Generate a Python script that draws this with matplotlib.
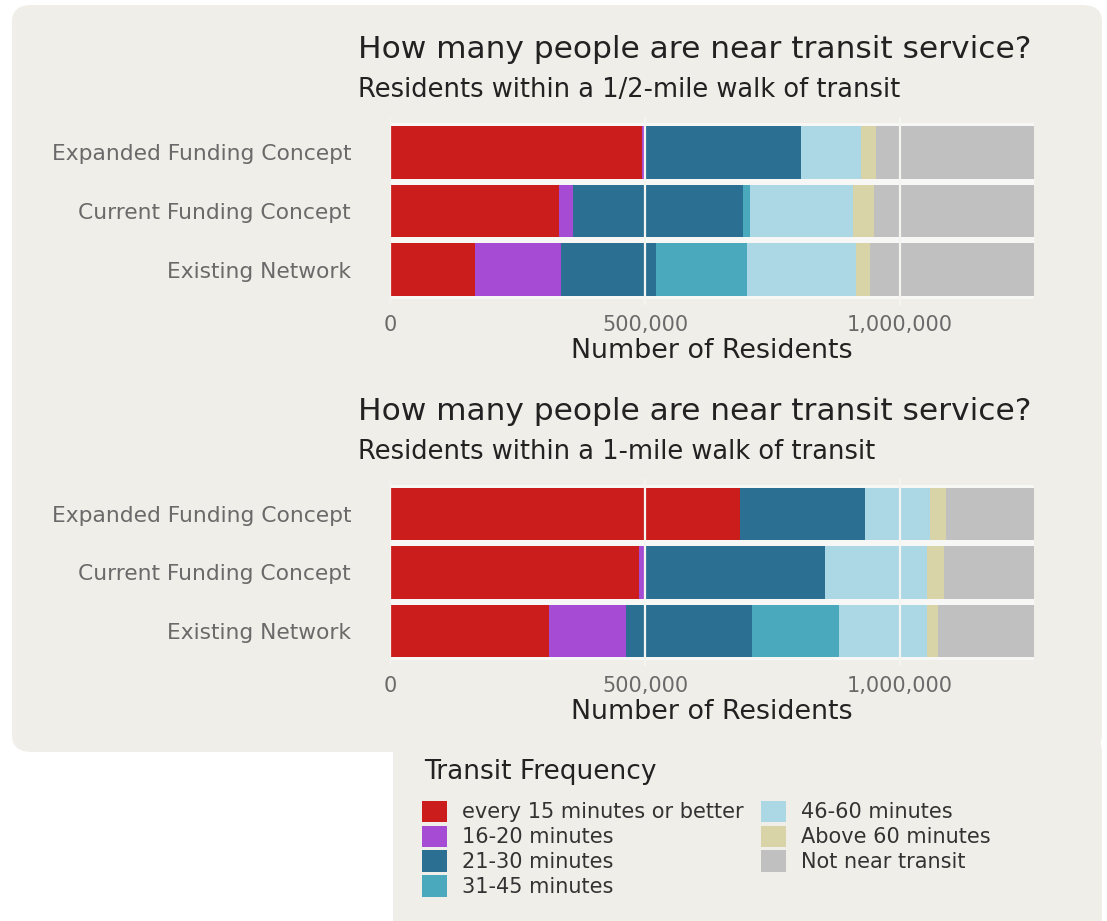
#!/usr/bin/env python3
"""Stacked bars: residents near transit by service frequency (1/2 mile and 1 mile walk)."""

import matplotlib

matplotlib.use("Agg")
import matplotlib.pyplot as plt
from matplotlib.patches import FancyBboxPatch, Patch

plt.rcParams["font.family"] = ["DejaVu Sans"]

W, H = 1107, 921

scenarios = ["Expanded Funding Concept", "Current Funding Concept", "Existing Network"]
categories = [
    "every 15 minutes or better",
    "16-20 minutes",
    "21-30 minutes",
    "31-45 minutes",
    "46-60 minutes",
    "Above 60 minutes",
    "Not near transit",
]
colors = ["#cc1d1d", "#a64bd3", "#2b7093", "#4aa9bd", "#acd8e6", "#d9d4a8", "#c0c0c0"]

# residents per frequency band, one row per scenario (same order as scenarios)
half_mile = [
    [495000, 5000, 307000, 0, 116000, 31000, 309000],
    [331000, 28000, 334000, 14000, 202000, 41000, 313000],
    [166000, 170000, 185000, 180000, 212000, 28000, 322000],
]
one_mile = [
    [686000, 0, 245000, 0, 128000, 31000, 173000],
    [489000, 12000, 353000, 0, 200000, 32000, 177000],
    [312000, 151000, 247000, 170000, 174000, 21000, 188000],
]

x_ticks = [0, 500000, 1000000]
x_ticklabels = ["0", "500,000", "1,000,000"]

BG = "#efeee8"
TEXT = "#222222"
GREY_TEXT = "#6a6a6a"


def px_box(x0, y0, x1, y1):
    # pixel box (top-left origin) -> figure fraction [left, bottom, width, height]
    return [x0 / W, 1 - y1 / H, (x1 - x0) / W, (y1 - y0) / H]


def draw_panel(ax, rows, title, subtitle, title_y):
    n = len(scenarios)
    ys = list(range(n - 1, -1, -1))
    total = max(sum(r) for r in rows)
    ax.barh(ys, [total] * n, height=1.0, color="#f7f7f5", zorder=1)
    for i, row in enumerate(rows):
        left = 0
        for val, col in zip(row, colors):
            if val > 0:
                ax.barh(ys[i], val, left=left, height=0.9, color=col, linewidth=0, zorder=2)
            left += val
    ax.set_xlim(0, total)
    ax.set_ylim(-0.6, n - 1 + 0.6)
    ax.set_facecolor("none")
    for s in ax.spines.values():
        s.set_visible(False)
    for xt in x_ticks:
        ax.axvline(xt, color="#f4f4f0", lw=1.6, zorder=3)
    ax.set_xticks(x_ticks)
    ax.set_xticklabels(x_ticklabels)
    ax.set_yticks(ys)
    ax.set_yticklabels(scenarios)
    ax.tick_params(axis="x", length=0, pad=7, labelsize=15, labelcolor=GREY_TEXT)
    ax.tick_params(axis="y", length=0, pad=28, labelsize=15.7, labelcolor=GREY_TEXT)
    ax.set_xlabel("Number of Residents", fontsize=19.4, color=TEXT, labelpad=2)
    fig.text(358 / W, 1 - title_y / H, title, fontsize=22.5, color=TEXT, va="baseline", ha="left")
    fig.text(358 / W, 1 - (title_y + 39) / H, subtitle, fontsize=18.5, color=TEXT,
             va="baseline", ha="left")


fig = plt.figure(figsize=(W / 100, H / 100), dpi=100)
fig.patch.set_facecolor("white")

# rounded background panels
main_bg = FancyBboxPatch((12 / W, 1 - 752 / H), 1090 / W, 747 / H,
                         boxstyle="round,pad=0,rounding_size=0.018",
                         transform=fig.transFigure, facecolor=BG, edgecolor="none", zorder=-5)
legend_bg = FancyBboxPatch((393 / W, 1 - 935 / H), 709 / W, 200 / H,
                           boxstyle="round,pad=0,rounding_size=0.018",
                           transform=fig.transFigure, facecolor=BG, edgecolor="none", zorder=-5)
fig.patches.extend([main_bg, legend_bg])

ax1 = fig.add_axes(px_box(390, 117, 1034, 305))
draw_panel(ax1, half_mile, "How many people are near transit service?",
           "Residents within a 1/2-mile walk of transit", 58)

ax2 = fig.add_axes(px_box(390, 479, 1034, 666))
draw_panel(ax2, one_mile, "How many people are near transit service?",
           "Residents within a 1-mile walk of transit", 420)

# legend title as its own text so the gap to the entries matches
fig.text(424 / W, 1 - 772 / H, "Transit Frequency", fontsize=19, color=TEXT,
         va="center", ha="left")
handles = [Patch(facecolor=c, edgecolor="none") for c in colors]
leg = fig.legend(handles, categories, ncol=2, loc="upper left",
                 bbox_to_anchor=(405 / W, 1 - 784 / H), frameon=False,
                 fontsize=15,
                 handlelength=1.2, handleheight=1.2, handletextpad=0.75,
                 labelspacing=0.15, columnspacing=0.8, borderpad=0.3)
for t in leg.get_texts():
    t.set_color("#333333")

fig.savefig("out.png", dpi=100, facecolor=fig.get_facecolor())
